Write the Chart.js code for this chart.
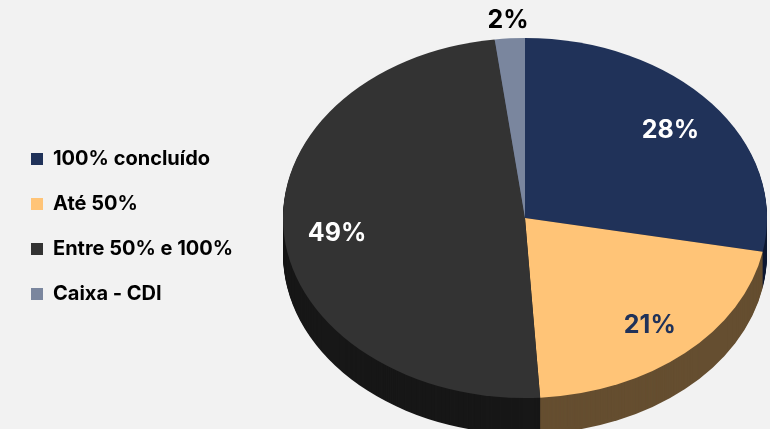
<!DOCTYPE html>
<html>
<head>
<meta charset="utf-8">
<script src="https://cdn.jsdelivr.net/npm/chart.js@4.4.1/dist/chart.umd.min.js"></script>
<style>
  html, body { margin: 0; padding: 0; background: #f2f2f2; overflow: hidden; }
  #wrap { position: relative; width: 770px; height: 429px; }
</style>
</head>
<body>
<div id="wrap"><canvas id="pie"></canvas></div>
<script>
const categories = ["100% concluído", "Até 50%", "Entre 50% e 100%", "Caixa - CDI"]
const shares = [28, 21, 49, 2]

const topColors = ["#203259", "#ffc477", "#333333", "#7a869e"]
const sideColors = ["#0f1a33", "#654e30", "#171717", "#4a5468"]
const labelColors = ["#ffffff", "#203259", "#ffffff", "#000000"]

// the flat pie gets squashed into a tilted disc with an extruded rim
const tilt = { cx: 525, cy: 218, rx: 242, ry: 180, depth: 36 }

function discTransform(ctx, arc, dy) {
  const k = arc.outerRadius
  ctx.translate(tilt.cx, tilt.cy + dy)
  ctx.scale(tilt.rx / k, tilt.ry / k)
  ctx.translate(-arc.x, -arc.y)
}

function toScreen(arc, px, py) {
  const k = arc.outerRadius
  return [tilt.cx + (px - arc.x) * tilt.rx / k, tilt.cy + (py - arc.y) * tilt.ry / k]
}

const disc3d = {
  id: "disc3d",
  beforeDatasetsDraw(chart) {
    const ctx = chart.ctx
    const arcs = chart.getDatasetMeta(0).data
    if (!arcs.length) return
    // rim: stack shifted copies of every slice in the darker side colour
    for (let d = tilt.depth; d >= 1; d--) {
      ctx.save()
      discTransform(ctx, arcs[0], d)
      arcs.forEach((a, i) => {
        const bg = a.options.backgroundColor
        a.options.backgroundColor = sideColors[i]
        a.draw(ctx)
        a.options.backgroundColor = bg
      })
      ctx.restore()
    }
    ctx.save()
    discTransform(ctx, arcs[0], 0)
  },
  afterDatasetsDraw(chart) {
    const ctx = chart.ctx
    const arcs = chart.getDatasetMeta(0).data
    if (!arcs.length) return
    ctx.restore()
    ctx.save()
    ctx.font = "bold 25px Inter"
    ctx.textAlign = "center"
    ctx.textBaseline = "middle"
    arcs.forEach((a, i) => {
      const mid = (a.startAngle + a.endAngle) / 2
      const f = shares[i] < 5 ? 1.11 : 0.78
      const px = a.x + Math.cos(mid) * a.outerRadius * f
      const py = a.y + Math.sin(mid) * a.outerRadius * f
      const [sx, sy] = toScreen(a, px, py)
      ctx.fillStyle = labelColors[i]
      ctx.fillText(shares[i] + "%", sx, sy + 2)
    })
    ctx.restore()
  }
}

new Chart(document.getElementById("pie"), {
  type: "pie",
  data: {
    labels: categories,
    datasets: [{
      data: shares,
      backgroundColor: topColors,
      borderWidth: 0,
      clip: false
    }]
  },
  options: {
    responsive: true,
    maintainAspectRatio: false,
    animation: false,
    layout: { padding: { top: 24, bottom: 0, left: 6 } },
    plugins: {
      tooltip: { enabled: false },
      legend: {
        position: "left",
        labels: {
          boxWidth: 12,
          boxHeight: 12,
          padding: 25,
          color: "#000000",
          font: { family: "Inter", size: 20, weight: "bold" }
        }
      }
    }
  },
  plugins: [disc3d]
})
</script>
</body>
</html>
